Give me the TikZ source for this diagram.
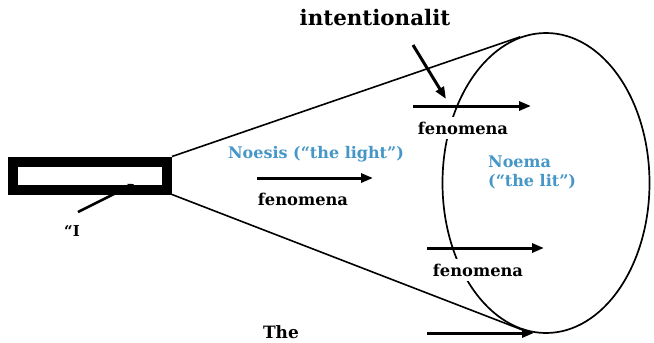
\documentclass[tikz,border=0pt]{standalone}
\usepackage{fontspec}
\setmainfont{DejaVu Serif}
\usetikzlibrary{arrows.meta,shapes.geometric}
\definecolor{noblue}{RGB}{70,150,200}
\begin{document}
\begin{tikzpicture}[x=1pt,y=-1pt,
  bigarrow/.style={line width=3pt,-{Triangle[length=12pt,width=9pt]}},
  cone/.style={line width=1.6pt},
  lbl/.style={font=\fontsize{16.3}{18}\selectfont\bfseries,inner sep=2pt},
  fen/.style={lbl,fill=white,inner ysep=5pt},
  bluelbl/.style={font=\fontsize{16}{19}\selectfont\bfseries,text=noblue,inner sep=1pt}]
\useasboundingbox (0,0) rectangle (654,343);
% ellipse (Noema)
\node[ellipse,draw,line width=1.7pt,minimum width=207pt,minimum height=300pt,inner sep=0pt] (noema) at (546,183) {};
% the "I" box
\node[draw,line width=10pt,minimum width=154pt,minimum height=28pt,inner sep=0pt] (box) at (90,175.5) {};
% cone lines
\draw[cone] (box.north east) -- (noema.100);
\draw[cone] (box.south east) -- (noema.261);
% pointer to box
\node[font=\fontsize{15}{17}\selectfont\bfseries,inner sep=1pt] (ilbl) at (72,231) {``I};
\coordinate (ptrs) at (78,212);
\coordinate (ptre) at (134,184);
\draw[line width=2.5pt,-{Triangle[length=6pt,width=6pt]}] (ptrs) -- (ptre);
% intentionality
\node[font=\fontsize{21.4}{24}\selectfont\bfseries,inner sep=1pt] (intent) at (375,18) {intentionalit};
\coordinate (ins) at (413,45);
\coordinate (ine) at (446,99);
\draw[bigarrow] (ins) -- (ine);
% top arrow
\coordinate (a1s) at (413,106);
\coordinate (a1e) at (531,106);
\draw[bigarrow] (a1s) -- (a1e);
\node[fen] (f1) at (463,128) {fenomena};
% noesis
\node[bluelbl] (noesis) at (316,154) {Noesis (``the light'')};
\coordinate (a2s) at (257,178);
\coordinate (a2e) at (373,178);
\draw[bigarrow] (a2s) -- (a2e);
\node[lbl] (f2) at (303,199) {fenomena};
% noema label
\node[bluelbl,align=left,anchor=west] (noemalbl) at (487,172) {Noema\\(``the lit'')};
% lower arrow
\coordinate (a3s) at (427,248);
\coordinate (a3e) at (544,248);
\draw[bigarrow] (a3s) -- (a3e);
\node[fen] (f3) at (478,270) {fenomena};
% bottom arrow
\coordinate (a4s) at (427,333);
\coordinate (a4e) at (534,333);
\draw[bigarrow] (a4s) -- (a4e);
\node[font=\fontsize{17}{20}\selectfont\bfseries,inner sep=1pt] (the) at (281,332) {The};
\end{tikzpicture}
\end{document}
